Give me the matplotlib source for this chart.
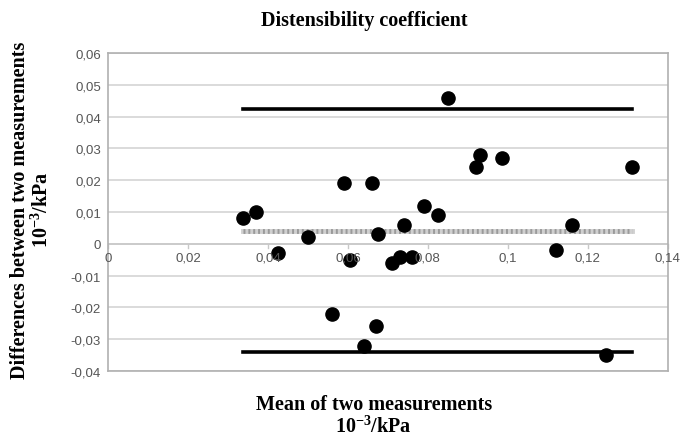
import matplotlib
matplotlib.use("Agg")
import matplotlib.pyplot as plt
import numpy as np

plt.rcParams["mathtext.fontset"] = "custom"
plt.rcParams["mathtext.rm"] = "Liberation Serif:bold"
plt.rcParams["mathtext.default"] = "rm"

# Bland-Altman data: mean vs difference
mean_vals = [0.0338, 0.037, 0.0425, 0.050, 0.059, 0.0605, 0.056, 0.064, 0.066,
             0.0675, 0.067, 0.071, 0.073, 0.074, 0.076, 0.079, 0.0825, 0.085,
             0.092, 0.093, 0.0985, 0.112, 0.116, 0.1245, 0.131]
diff_vals = [0.008, 0.010, -0.003, 0.002, 0.019, -0.005, -0.022, -0.032, 0.019,
             0.003, -0.026, -0.006, -0.004, 0.006, -0.004, 0.012, 0.009, 0.046,
             0.024, 0.028, 0.027, -0.002, 0.006, -0.035, 0.024]
upper_loa = 0.0425
lower_loa = -0.034
mean_diff = 0.004
line_x = [0.0338, 0.131]

x_ticks = [0, 0.02, 0.04, 0.06, 0.08, 0.1, 0.12, 0.14]
y_ticks = [-0.04, -0.03, -0.02, -0.01, 0, 0.01, 0.02, 0.03, 0.04, 0.05, 0.06]


def fmt(v):
    s = ("%.2f" % v).rstrip("0").rstrip(".")
    if s in ("-0", "0"):
        s = "0"
    return s.replace(".", ",")


fig = plt.figure(figsize=(6.92, 4.39), dpi=100)
ax = fig.add_axes([0.156, 0.1526, 0.809, 0.7244])

ax.set_xlim(0, 0.14)
ax.set_ylim(-0.04, 0.06)

for yv in y_ticks:
    ax.axhline(yv, color="#d4d4d4", lw=1.2, zorder=0)
ax.axhline(0, color="#c8c8c8", lw=1.2, zorder=0)

for s in ["left", "right", "top", "bottom"]:
    ax.spines[s].set_color("#b0b0b0")
    ax.spines[s].set_linewidth(1.2)

# limits of agreement and mean difference
ax.plot(line_x, [upper_loa, upper_loa], color="black", lw=2.6, zorder=2)
ax.plot(line_x, [lower_loa, lower_loa], color="black", lw=2.6, zorder=2)
ax.plot(line_x, [mean_diff, mean_diff], color="#d0d0d0", lw=3.5, zorder=2)
ax.plot(line_x, [mean_diff, mean_diff], color="#9a9a9a", lw=3.5,
        ls=(0, (0.4, 0.6)), zorder=2)

ax.scatter(mean_vals, diff_vals, s=90, color="black", zorder=3)

# y ticks on left
ax.set_yticks(y_ticks)
ax.set_yticklabels([fmt(v) for v in y_ticks])
ax.tick_params(axis="y", length=0, labelsize=9.5, labelcolor="#555555", pad=5)
ax.set_xticks([])

# x tick marks and labels along y=0
for xv in x_ticks:
    ax.plot([xv, xv], [0, -0.0012], color="#c8c8c8", lw=1, zorder=1,
            clip_on=False)
    ax.text(xv, -0.0025, fmt(xv), ha="center", va="top", fontsize=9.5,
            color="#555555", family="Liberation Sans")
for lbl in ax.get_yticklabels():
    lbl.set_family("Liberation Sans")

fig.text(0.527, 0.953, "Distensibility coefficient", ha="center", va="center",
         fontsize=14.5, fontweight="bold", family="Liberation Serif")
fig.text(0.046, 0.522, "Differences between two measurements\n10$^{-3}$/kPa",
         ha="center", va="center", rotation=90, fontsize=14.5,
         fontweight="bold", family="Liberation Serif", linespacing=1.1)
fig.text(0.54, 0.052, "Mean of two measurements\n10$^{-3}$/kPa",
         ha="center", va="center", fontsize=14.5, fontweight="bold",
         family="Liberation Serif", linespacing=1.1)

fig.savefig("out.png", dpi=100)
